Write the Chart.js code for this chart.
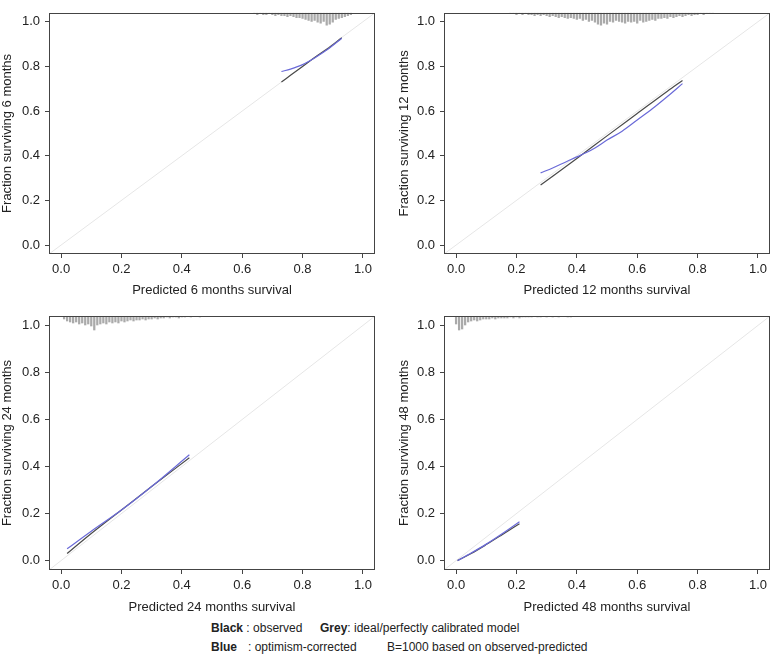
<!DOCTYPE html>
<html>
<head>
<meta charset="utf-8">
<script src="https://cdn.jsdelivr.net/npm/chart.js@4.4.1/dist/chart.umd.min.js"></script>
<style>
    body { margin: 0; background: #fff; }
    #wrap { position: relative; width: 771px; height: 655px; overflow: hidden; font-family: "Liberation Sans", Arial, sans-serif; }
    .panel { position: absolute; }
    .leg { position: absolute; font-size: 12px; color: #222; white-space: pre; line-height: 14px; }
    .leg b { font-weight: bold; }
</style>
</head>
<body>
<div id="wrap">
    <div class="panel" style="left:0;top:0;width:385px;height:300px"><canvas id="p6"></canvas></div>
    <div class="panel" style="left:385px;top:0;width:386px;height:300px"><canvas id="p12"></canvas></div>
    <div class="panel" style="left:0;top:300px;width:385px;height:320px"><canvas id="p24"></canvas></div>
    <div class="panel" style="left:385px;top:300px;width:386px;height:320px"><canvas id="p48"></canvas></div>

    <div class="leg" style="left:211px;top:621px"><b>Black</b> : observed</div>
    <div class="leg" style="left:320px;top:621px"><b>Grey</b>: ideal/perfectly calibrated model</div>
    <div class="leg" style="left:211px;top:640px"><b>Blue</b></div>
    <div class="leg" style="left:248px;top:640px">: optimism-corrected</div>
    <div class="leg" style="left:387px;top:640px">B=1000 based on observed-predicted</div>
</div>

<script>
// axis
var axisRange = [-0.04, 1.04];
var tickVals = [0, 0.2, 0.4, 0.6, 0.8, 1.0];
var tickLabels = ['0.0', '0.2', '0.4', '0.6', '0.8', '1.0'];
var months = ['6', '12', '24', '48'];

// observed (black) and optimism-corrected (blue) curves
var obsX6 = [0.73, 0.76, 0.80, 0.84, 0.88, 0.93];
var obsY6 = [0.73, 0.76, 0.80, 0.84, 0.877, 0.928];
var corX6 = [0.73, 0.76, 0.80, 0.84, 0.88, 0.93];
var corY6 = [0.777, 0.788, 0.808, 0.838, 0.873, 0.926];

var obsX12 = [0.28, 0.40, 0.50, 0.60, 0.70, 0.75];
var obsY12 = [0.269, 0.388, 0.489, 0.589, 0.689, 0.737];
var corX12 = [0.28, 0.32, 0.36, 0.40, 0.43, 0.46, 0.50, 0.55, 0.60, 0.65, 0.70, 0.75];
var corY12 = [0.323, 0.345, 0.37, 0.395, 0.413, 0.435, 0.47, 0.51, 0.56, 0.61, 0.665, 0.723];

var obsX24 = [0.02, 0.10, 0.20, 0.30, 0.425];
var obsY24 = [0.03, 0.115, 0.215, 0.315, 0.437];
var corX24 = [0.02, 0.10, 0.20, 0.30, 0.425];
var corY24 = [0.05, 0.125, 0.215, 0.315, 0.45];

var obsX48 = [0.005, 0.05, 0.10, 0.15, 0.21];
var obsY48 = [0.0, 0.03, 0.068, 0.108, 0.157];
var corX48 = [0.005, 0.05, 0.10, 0.15, 0.21];
var corY48 = [0.0, 0.032, 0.07, 0.112, 0.165];

// distribution of predicted values (top rug), start + step 0.01
var rugStart6 = 0.64;
var rugFreq6 = [1,2,1,2,2,1,2,3,2,3, 3,4,3,4,5,5,6,7,8,9, 8,10,11,9,13,12,10,7,6,5, 4,3,2];
var rugStart12 = 0.18;
var rugFreq12 = [1,1,2,1,2,1,2,2,3,2, 3,2,3,4,3,4,5,4,5,6, 5,6,7,6,8,7,9,8,10,12,
    13,11,12,9,10,8,9,10,11,9, 10,9,11,8,10,9,8,7,8,6, 6,5,6,4,5,4,3,4,3,2, 3,2,2,1,2,1,1,1];
var rugStart24 = 0.01;
var rugFreq24 = [3,5,6,7,6,8,7,9,8,10, 14,9,8,7,8,6,7,6,7,5, 6,5,4,5,4,4,3,4,3,3,
    2,3,2,2,1,2,1,1,2,1, 1,0,1,0,0,1];
var rugStart48 = 0.0;
var rugFreq48 = [8,14,13,9,6,5,4,5,4,3, 3,3,2,3,2,2,2,2,1,2, 1,2,1,1,1,1,0,1,1,0, 1,0,1,0,1,0,0,1,1];

var rugUnit = 0.00425;

function toPoints(xs, ys) {
    return xs.map(function (x, i) {
        return { x: x, y: ys[i] };
    });
}

function rugBars(start, freq) {
    var out = [];
    freq.forEach(function (f, i) {
        if (f > 0) {
            var x = Math.round((start + i * 0.01) * 100) / 100;
            out.push({ x: x, y: [axisRange[1] - f * rugUnit, axisRange[1]] });
        }
    });
    return out;
}

// box round the plot region, like R
var framePlugin = {
    id: 'frame',
    afterDraw: function (chart) {
        var a = chart.chartArea;
        var ctx = chart.ctx;
        ctx.save();
        ctx.strokeStyle = '#444';
        ctx.lineWidth = 1;
        ctx.strokeRect(Math.round(a.left) + 0.5, Math.round(a.top) + 0.5,
            Math.round(a.right - a.left) - 1, Math.round(a.bottom - a.top) - 1);
        ctx.restore();
    }
};

function makePanel(id, m, obsX, obsY, corX, corY, rugStart, rugFreq, opt) {
    var el = document.getElementById(id);
    new Chart(el, {
        type: 'line',
        data: {
            datasets: [
                {
                    label: 'ideal',
                    data: toPoints(axisRange, axisRange),
                    borderColor: '#e6e6e6',
                    borderWidth: 1,
                    pointRadius: 0,
                    order: 4
                },
                {
                    label: 'observed',
                    data: toPoints(obsX, obsY),
                    borderColor: '#4a4a4a',
                    borderWidth: 1.2,
                    pointRadius: 0,
                    cubicInterpolationMode: 'monotone',
                    order: 2
                },
                {
                    label: 'optimism-corrected',
                    data: toPoints(corX, corY),
                    borderColor: '#6a6ad8',
                    borderWidth: 1.2,
                    pointRadius: 0,
                    cubicInterpolationMode: 'monotone',
                    order: 1
                },
                {
                    type: 'bar',
                    label: 'predicted',
                    data: rugBars(rugStart, rugFreq),
                    backgroundColor: 'rgba(100,100,100,0.55)',
                    borderWidth: 0,
                    barThickness: 1.6,
                    grouped: false,
                    order: 3
                }
            ]
        },
        options: {
            responsive: false,
            animation: false,
            layout: { padding: { top: opt.top, right: opt.right, bottom: 0, left: 0 } },
            plugins: { legend: { display: false }, tooltip: { enabled: false } },
            scales: {
                x: {
                    type: 'linear',
                    min: axisRange[0],
                    max: axisRange[1],
                    offset: false,
                    afterBuildTicks: function (s) {
                        s.ticks = tickVals.map(function (v) { return { value: v }; });
                    },
                    afterFit: function (s) { s.height = opt.xh; },
                    grid: { display: true, drawOnChartArea: false, drawTicks: true, tickLength: 4, color: '#444', offset: false },
                    border: { display: false },
                    ticks: {
                        padding: 4,
                        color: '#222',
                        font: { family: 'Liberation Sans', size: 13 },
                        maxRotation: 0,
                        callback: function (v) { return tickLabels[tickVals.indexOf(v)]; }
                    },
                    title: {
                        display: true,
                        text: 'Predicted ' + m + ' months survival',
                        color: '#222',
                        font: { family: 'Liberation Sans', size: 13 },
                        padding: { top: 0, bottom: opt.xtp }
                    }
                },
                y: {
                    type: 'linear',
                    min: axisRange[0],
                    max: axisRange[1],
                    afterBuildTicks: function (s) {
                        s.ticks = tickVals.map(function (v) { return { value: v }; });
                    },
                    afterFit: function (s) { s.width = opt.yw; },
                    grid: { display: true, drawOnChartArea: false, drawTicks: true, tickLength: 4, color: '#444' },
                    border: { display: false },
                    ticks: {
                        padding: 5,
                        color: '#222',
                        font: { family: 'Liberation Sans', size: 13 },
                        callback: function (v) { return tickLabels[tickVals.indexOf(v)]; }
                    },
                    title: {
                        display: true,
                        text: 'Fraction surviving ' + m + ' months',
                        color: '#222',
                        font: { family: 'Liberation Sans', size: 13 },
                        padding: { top: opt.ytp, bottom: 0 }
                    }
                }
            }
        },
        plugins: [framePlugin]
    });
}

function sizeCanvas(id, w, h) {
    var c = document.getElementById(id);
    c.width = w;
    c.height = h;
    c.style.width = w + 'px';
    c.style.height = h + 'px';
}

sizeCanvas('p6', 385, 300);
sizeCanvas('p12', 386, 300);
sizeCanvas('p24', 385, 320);
sizeCanvas('p48', 386, 320);

makePanel('p6', months[0], obsX6, obsY6, corX6, corY6, rugStart6, rugFreq6,
    { top: 0, right: 10, xh: 46, yw: 49, xtp: 2, ytp: 0 });
makePanel('p12', months[1], obsX12, obsY12, corX12, corY12, rugStart12, rugFreq12,
    { top: 0, right: 0, xh: 46, yw: 59, xtp: 2, ytp: 12 });
makePanel('p24', months[2], obsX24, obsY24, corX24, corY24, rugStart24, rugFreq24,
    { top: 16, right: 10, xh: 50, yw: 49, xtp: 5, ytp: 0 });
makePanel('p48', months[3], obsX48, obsY48, corX48, corY48, rugStart48, rugFreq48,
    { top: 16, right: 0, xh: 50, yw: 59, xtp: 5, ytp: 12 });
</script>
</body>
</html>
